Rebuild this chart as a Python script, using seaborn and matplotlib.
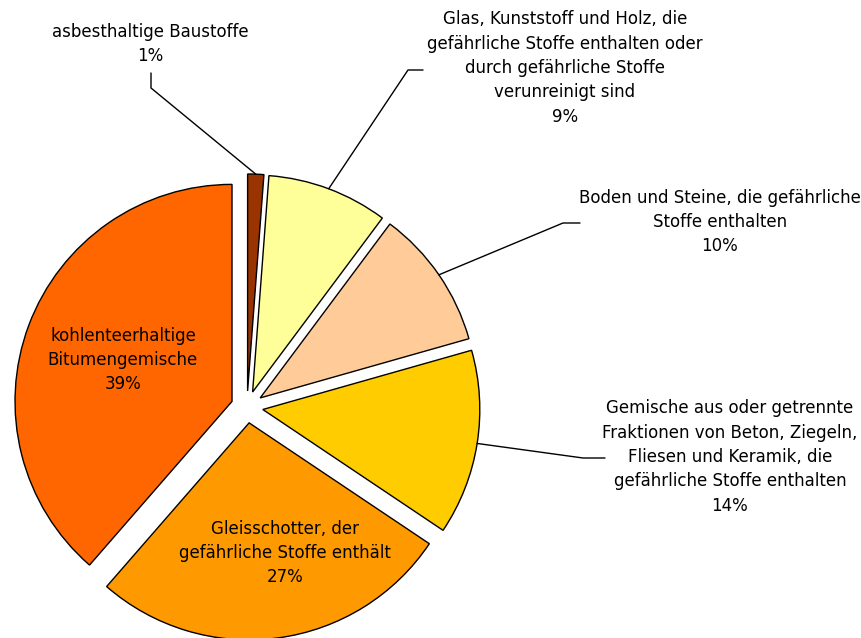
import numpy as np
import seaborn as sns
import matplotlib
matplotlib.use('Agg')
import matplotlib.pyplot as plt

# Data (clockwise from 12 o'clock), in percent.
categories = [
    "asbesthaltige Baustoffe",
    "Glas, Kunststoff und Holz, die\ngefährliche Stoffe enthalten oder\ndurch gefährliche Stoffe\nverunreinigt sind",
    "Boden und Steine, die gefährliche\nStoffe enthalten",
    "Gemische aus oder getrennte\nFraktionen von Beton, Ziegeln,\nFliesen und Keramik, die\ngefährliche Stoffe enthalten",
    "Gleisschotter, der\ngefährliche Stoffe enthält",
    "kohlenteerhaltige\nBitumengemische",
]
shares = [1.2, 9.0, 10.4, 13.8, 27.0, 38.6]
colors = ["#993300", "#FFFF99", "#FFCC99", "#FFCC00", "#FF9900", "#FF6600"]

W, H = 862, 638

sns.set_theme(style="white")
plt.rcParams['font.family'] = ['DejaVu Sans']

fig = plt.figure(figsize=(W / 100, H / 100), dpi=100)
ax = fig.add_axes([0, 0, 1, 1])

# pie works in pixel units here, so explode is an absolute offset
radius = 217
center = (247, H - 407)
wedges, _ = ax.pie(shares, colors=colors, startangle=90, counterclock=False,
                   radius=radius, center=center, explode=[16] * len(shares),
                   wedgeprops=dict(edgecolor="black", linewidth=1.0),
                   frame=True)
ax.set_xlim(0, W)
ax.set_ylim(0, H)
ax.set_aspect('equal')
ax.axis('off')

# Label layout in image pixel coordinates: (text centre, elbow + line end)
labels = [
    ((150, 44), [(151, 88), (151, 73)]),
    ((565, 68), [(408, 70), (423, 70)]),
    ((720, 222), [(563, 223), (580, 223)]),
    ((730, 457), [(583, 458), (605, 458)]),
    ((285, 553), None),
    ((123, 360), None),
]

for wedge, name, share, (pos, leader) in zip(wedges, categories, shares, labels):
    txt = "{}\n{:.0f}%".format(name, share)
    ax.text(pos[0], H - pos[1], txt, ha="center", va="center",
            multialignment="center", fontsize=12, linespacing=1.45,
            color="black")
    if leader is None:
        continue
    mid = np.deg2rad((wedge.theta1 + wedge.theta2) / 2)
    cx, cy = wedge.center
    xs = [cx + wedge.r * np.cos(mid)] + [p[0] for p in leader]
    ys = [cy + wedge.r * np.sin(mid)] + [H - p[1] for p in leader]
    ax.plot(xs, ys, color="black", lw=1.0)

fig.savefig("out.png", dpi=100)
plt.close()
